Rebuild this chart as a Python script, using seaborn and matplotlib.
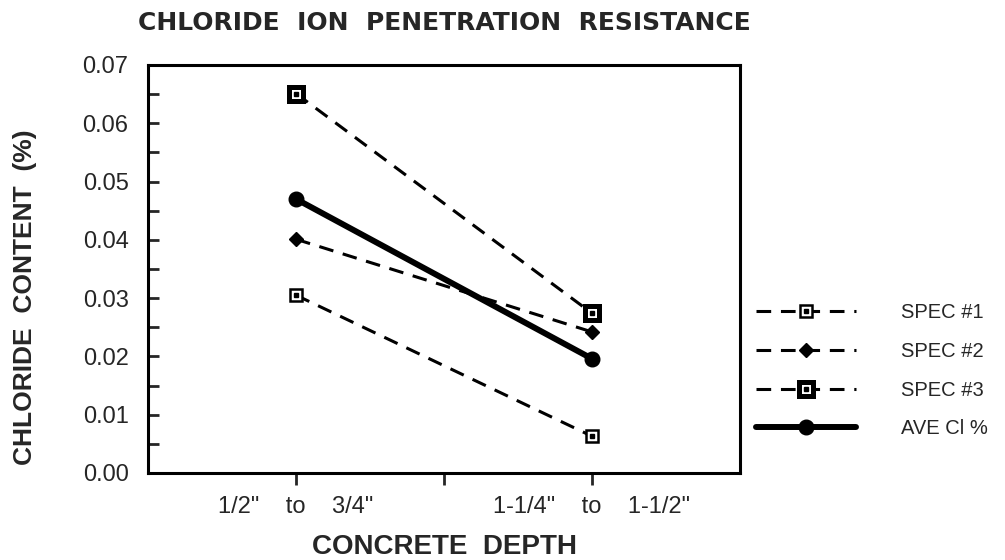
import matplotlib
matplotlib.use('Agg')
import matplotlib.pyplot as plt
import seaborn as sns
import pandas as pd
from matplotlib.legend_handler import HandlerTuple
from matplotlib.transforms import blended_transform_factory

# data
depth_pos = [1, 3]
spec1 = [0.0305, 0.0063]
spec2 = [0.0401, 0.0242]
spec3 = [0.0651, 0.0274]
ave_cl = [0.0470, 0.0196]
series_names = ['SPEC #1', 'SPEC #2', 'SPEC #3', 'AVE Cl %']
depth_labels = ['1/2"    to    3/4"', '1-1/4"    to    1-1/2"']
y_ticks = [0.00, 0.01, 0.02, 0.03, 0.04, 0.05, 0.06, 0.07]

sns.set_style('white')
plt.rcParams['font.family'] = ['Liberation Sans', 'DejaVu Sans']

fig = plt.figure(figsize=(10.05, 5.6), dpi=100)
ax = fig.add_axes([0.1473, 0.1554, 0.589, 0.7286])

dash = (0, (4.8, 3.2))
styles = {
    'SPEC #1': dict(ls=dash, lw=2.2, marker='s', ms=8.5, mfc='white', mec='black', mew=1.8),
    'SPEC #2': dict(ls=dash, lw=2.2, marker='D', ms=7.5, mfc='black', mec='black', mew=1),
    'SPEC #3': dict(ls=dash, lw=2.2, marker='s', ms=10, mfc='white', mec='black', mew=3.6),
    'AVE Cl %': dict(ls='-', lw=4.3, marker='o', ms=10.5, mfc='black', mec='black', mew=1),
}
values = {'SPEC #1': spec1, 'SPEC #2': spec2, 'SPEC #3': spec3, 'AVE Cl %': ave_cl}

handles = []
for name in series_names:
    df = pd.DataFrame({'depth': depth_pos, 'cl': values[name]})
    st = styles[name]
    sns.lineplot(data=df, x='depth', y='cl', ax=ax, color='black',
                 linestyle=st['ls'], linewidth=st['lw'], marker=st['marker'],
                 markersize=st['ms'], markerfacecolor=st['mfc'],
                 markeredgecolor=st['mec'], markeredgewidth=st['mew'])
    line = ax.lines[-1]
    if name in ('SPEC #1', 'SPEC #3'):
        dot, = ax.plot(depth_pos, values[name], ls='none', marker='s', ms=2.2,
                       color='black')
        handles.append((line, dot))
    else:
        handles.append(line)

ax.set_xlim(0, 4)
ax.set_ylim(0, 0.07)
ax.set_yticks(y_ticks)
ax.set_yticklabels([f'{v:.2f}' for v in y_ticks], fontsize=17)
ax.set_yticks([v + 0.005 for v in y_ticks[:-1]], minor=True)
ax.set_xticks([1, 2, 3])
ax.set_xticklabels([])
ax.tick_params(axis='y', which='both', direction='in', length=8, width=2,
               left=True, pad=14)
ax.tick_params(axis='x', which='major', direction='out', length=8.5, width=2,
               bottom=True)
for sp in ax.spines.values():
    sp.set_linewidth(2.2)
    sp.set_color('black')
ax.set_xlabel('')
ax.set_ylabel('')

trans = blended_transform_factory(ax.transData, ax.transAxes)
for lab, xp in zip(depth_labels, [depth_pos[0], depth_pos[1]]):
    ax.text(xp, -0.098, lab, ha='center', va='baseline', fontsize=17,
            transform=trans)

fig.text(0.442, 0.946, 'CHLORIDE  ION  PENETRATION  RESISTANCE', ha='center',
         va='baseline', fontsize=18, fontweight='bold', family='DejaVu Sans')
fig.text(0.442, 0.01, 'CONCRETE  DEPTH', ha='center', va='baseline',
         fontsize=20, fontweight='bold')
fig.text(0.025, 0.47, 'CHLORIDE  CONTENT  (%)', ha='center', va='center',
         rotation=90, fontsize=19, fontweight='bold')

fig.legend(handles, series_names, loc='center left',
           bbox_to_anchor=(0.752, 0.338), frameon=False, fontsize=14.5,
           handlelength=5.0, handletextpad=2.2, labelspacing=0.98,
           borderpad=0, borderaxespad=0,
           handler_map={tuple: HandlerTuple(ndivide=1)})

fig.savefig('out.png', dpi=100)
